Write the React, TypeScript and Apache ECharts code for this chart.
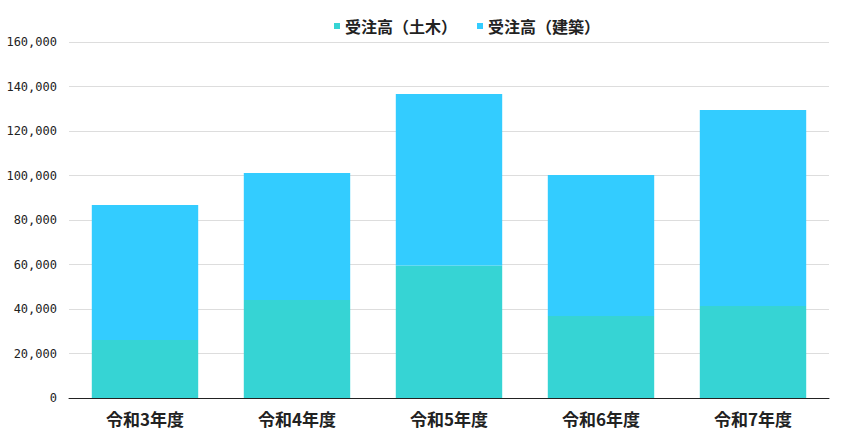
import React, { useEffect, useRef } from "react";
import * as echarts from "echarts";

const categories = ["令和3年度", "令和4年度", "令和5年度", "令和6年度", "令和7年度"];
const civilValues = [26100, 44000, 59600, 36900, 41300];
const buildingValues = [60600, 57100, 77000, 63300, 88100];
const seriesNames = ["受注高（土木）", "受注高（建築）"];

export default function App() {
  const ref = useRef<HTMLDivElement>(null);
  useEffect(() => {
    document.body.style.margin = "0";
    const chart = echarts.init(ref.current!, null, { renderer: "svg" });
    chart.setOption({
      animation: false,
      backgroundColor: "#ffffff",
      legend: {
        top: 13,
        left: 329,
        itemWidth: 6,
        itemHeight: 6,
        itemGap: 20,
        icon: "rect",
        textStyle: {
          fontFamily: "Noto Sans CJK JP",
          fontSize: 16,
          fontWeight: "bold",
          color: "#222",
        },
        data: seriesNames,
      },
      grid: { left: 69, right: 16, top: 42, bottom: 47 },
      xAxis: {
        type: "category",
        data: categories,
        axisLine: { lineStyle: { color: "#222", width: 1 } },
        axisTick: { inside: true, length: 5, lineStyle: { color: "#222" } },
        axisLabel: {
          fontFamily: "Noto Sans CJK JP",
          fontSize: 17,
          fontWeight: "bold",
          color: "#222",
          margin: 12,
        },
      },
      yAxis: {
        type: "value",
        min: 0,
        max: 160000,
        interval: 20000,
        axisLine: { show: false },
        axisTick: { show: false },
        splitLine: { lineStyle: { color: "#dddddd" } },
        axisLabel: {
          fontFamily: "DejaVu Sans Mono",
          fontSize: 12,
          color: "#222",
          margin: 12,
          formatter: (v: number) => v.toLocaleString("en-US"),
        },
      },
      series: [
        {
          name: seriesNames[0],
          type: "bar",
          stack: "total",
          barWidth: "70%",
          itemStyle: { color: "#36d4d4" },
          data: civilValues,
        },
        {
          name: seriesNames[1],
          type: "bar",
          stack: "total",
          barWidth: "70%",
          itemStyle: { color: "#33ccff" },
          data: buildingValues,
        },
      ],
    });
    return () => chart.dispose();
  }, []);
  return <div ref={ref} style={{ width: 845, height: 445 }} />;
}
